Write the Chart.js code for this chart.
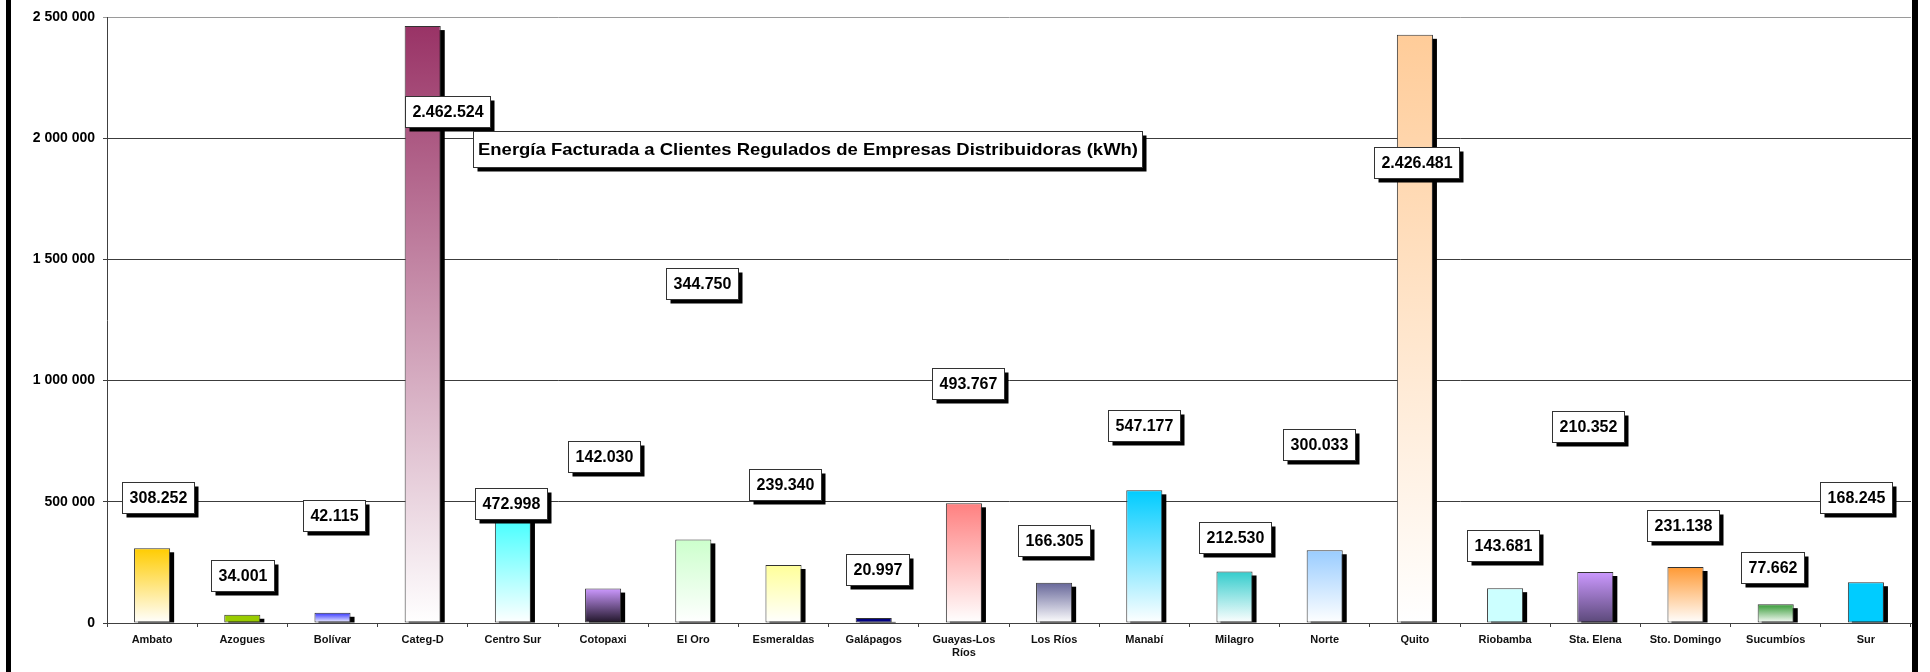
<!DOCTYPE html>
<html>
<head>
<meta charset="utf-8">
<script src="https://cdn.jsdelivr.net/npm/chart.js@4/dist/chart.umd.min.js"></script>
<style>
  html, body { margin: 0; padding: 0; background: #fff; }
  #wrap { width: 1930px; height: 672px; }
</style>
</head>
<body>
<div id="wrap"><canvas id="c" width="1930" height="672"></canvas></div>
<script>
// ---- data ----
const categories = ["Ambato", "Azogues", "Bolívar", "Categ-D", "Centro Sur", "Cotopaxi", "El Oro", "Esmeraldas", "Galápagos", ["Guayas-Los", "Ríos"], "Los Ríos", "Manabí", "Milagro", "Norte", "Quito", "Riobamba", "Sta. Elena", "Sto. Domingo", "Sucumbíos", "Sur"];
const values = [308252, 34001, 42115, 2462524, 472998, 142030, 344750, 239340, 20997, 493767, 166305, 547177, 212530, 300033, 2426481, 143681, 210352, 231138, 77662, 168245];
const yTicks = [0, 500000, 1000000, 1500000, 2000000, 2500000];
const titleText = "Energía Facturada a Clientes Regulados de Empresas Distribuidoras (kWh)";

// where each value label box sits (value units on y, shift in category widths on x)
const labelAt = [518600, 196800, 444300, 2111000, 493800, 687700, 1401400, 572200, 221500, 988900, 341200, 815600, 353500, 737200, 1898500, 320500, 811500, 403000, 229800, 518600];
const labelShift = [0.06, 0, 0.02, 0.28, -0.02, 0.01, 0.10, 0.02, 0.04, 0.04, 0, 0, 0, -0.06, 0.02, -0.02, -0.08, -0.03, -0.04, -0.11];

// ---- styles ----
const topColors = ["#FFCC00", "#99CC00", "#3333FF", "#993366", "#33FFFF", "#CC99FF", "#CCFFCC", "#FFFF99", "#000080", "#FF8080", "#666699", "#00CCFF", "#33CCCC", "#99CCFF", "#FFCC99", "#CCFFFF", "#CC99FF", "#FF9933", "#339933", "#00CCFF"];
const bottomColors = ["#FFFFFF", "#99CC00", "#FFFFFF", "#FFFFFF", "#FFFFFF", "#1E1426", "#FFFFFF", "#FFFFFF", "#000080", "#FFFFFF", "#FFFFFF", "#FFFFFF", "#FFFFFF", "#FFFFFF", "#FFFFFF", "#CCFFFF", "#5A4878", "#FFFFFF", "#FFFFFF", "#00CCFF"];

const FONT = "'Liberation Sans', Arial, Helvetica, sans-serif";

function fmtDots(v) {
  return String(v).replace(/\B(?=(\d{3})+(?!\d))/g, ".");
}
function fmtSpaces(v) {
  return String(v).replace(/\B(?=(\d{3})+(?!\d))/g, " ");
}

function barGradient(context) {
  const chart = context.chart;
  const i = context.dataIndex;
  const area = chart.chartArea;
  if (!area || i === undefined) return topColors[i] || "#ccc";
  const y = chart.scales.y;
  const yTop = y.getPixelForValue(values[i]);
  const yBot = y.getPixelForValue(0);
  const g = chart.ctx.createLinearGradient(0, yTop, 0, yBot);
  g.addColorStop(0, topColors[i]);
  g.addColorStop(1, bottomColors[i]);
  return g;
}

// box with drop shadow; text optionally stretched horizontally
function drawBox(c, cx, cy, w, h, text, font, stretch) {
  const x = Math.round(cx - w / 2) + 0.5;
  const y = Math.round(cy - h / 2) + 0.5;
  c.fillStyle = "#000";
  c.fillRect(x + 4, y + 4, w, h);
  c.fillStyle = "#fff";
  c.fillRect(x, y, w, h);
  c.strokeStyle = "#333";
  c.lineWidth = 1;
  c.strokeRect(x, y, w, h);
  c.fillStyle = "#000";
  c.font = font;
  c.textAlign = "center";
  c.textBaseline = "middle";
  c.save();
  c.translate(x + w / 2, y + h / 2 + 1);
  c.scale(stretch || 1, 1);
  c.fillText(text, 0, 0);
  c.restore();
}

const decor = {
  id: "decor",
  beforeDraw(chart) {
    const c = chart.ctx;
    c.save();
    c.fillStyle = "#fff";
    c.fillRect(0, 0, chart.width, chart.height);
    c.restore();
  },
  beforeDatasetsDraw(chart) {
    const c = chart.ctx;
    const meta = chart.getDatasetMeta(0);
    c.save();
    c.fillStyle = "#000";
    meta.data.forEach(bar => {
      const p = bar.getProps(["x", "y", "base", "width"], true);
      const h = p.base - p.y - 4;
      if (h > 0) c.fillRect(p.x - p.width / 2 + 4, p.y + 4, p.width, h);
    });
    c.restore();
  },
  afterDatasetsDraw(chart) {
    const c = chart.ctx;
    const xs = chart.scales.x, ys = chart.scales.y;
    const catW = (chart.chartArea.right - chart.chartArea.left) / categories.length;
    c.save();
    const lf = "bold 16px " + FONT;
    c.font = lf;
    values.forEach((v, i) => {
      const t = fmtDots(v);
      const w = Math.round(c.measureText(t).width + 14);
      const cx = xs.getPixelForValue(i) + labelShift[i] * catW;
      const cy = ys.getPixelForValue(labelAt[i]);
      drawBox(c, cx, cy, w, 31, t, lf, 1);
    });
    // title box
    const tf = "bold 17px " + FONT;
    c.font = tf;
    const raw = c.measureText(titleText).width;
    const targetText = 660;
    const stretch = targetText / raw;
    const tw = 669;
    drawBox(c, 473 + tw / 2, 149, tw, 36, titleText, tf, stretch);
    c.restore();
  },
  afterDraw(chart) {
    const c = chart.ctx;
    c.save();
    c.fillStyle = "#000";
    c.fillRect(6, 0, 5, chart.height);
    c.fillRect(1912, 0, 6, chart.height);
    c.restore();
  }
};

new Chart(document.getElementById("c"), {
  type: "bar",
  data: {
    labels: categories,
    datasets: [{
      data: values,
      backgroundColor: barGradient,
      borderColor: "#333",
      borderWidth: 1,
      borderSkipped: false,
      barPercentage: 0.4,
      categoryPercentage: 1.0
    }]
  },
  options: {
    responsive: false,
    animation: false,
    devicePixelRatio: 1,
    layout: { padding: { top: 17, left: 0, right: 19, bottom: 0 } },
    plugins: {
      legend: { display: false },
      title: { display: false },
      tooltip: { enabled: false }
    },
    scales: {
      x: {
        afterFit(scale) { scale.height = 49; },
        grid: {
          display: true,
          drawOnChartArea: false,
          drawTicks: true,
          tickLength: 4,
          color: "#404040",
          offset: true
        },
        border: { display: true, color: "#404040", width: 1 },
        ticks: {
          color: "#111",
          font: { family: FONT, size: 11, weight: "bold" },
          padding: 6,
          maxRotation: 0,
          autoSkip: false
        }
      },
      y: {
        min: 0,
        max: 2500000,
        afterFit(scale) { scale.width = 107; },
        afterBuildTicks(scale) { scale.ticks = yTicks.map(v => ({ value: v })); },
        grid: {
          color: (ctx) => (ctx.tick && ctx.tick.value === 2500000) ? "#9a9a9a" : "#3c3c3c",
          lineWidth: 1,
          tickLength: 4,
          drawTicks: true
        },
        border: { display: true, color: "#404040", width: 1 },
        ticks: {
          color: "#000",
          font: { family: FONT, size: 14, weight: "bold" },
          padding: 8,
          callback: (v) => fmtSpaces(v)
        }
      }
    }
  },
  plugins: [decor]
});
</script>
</body>
</html>
